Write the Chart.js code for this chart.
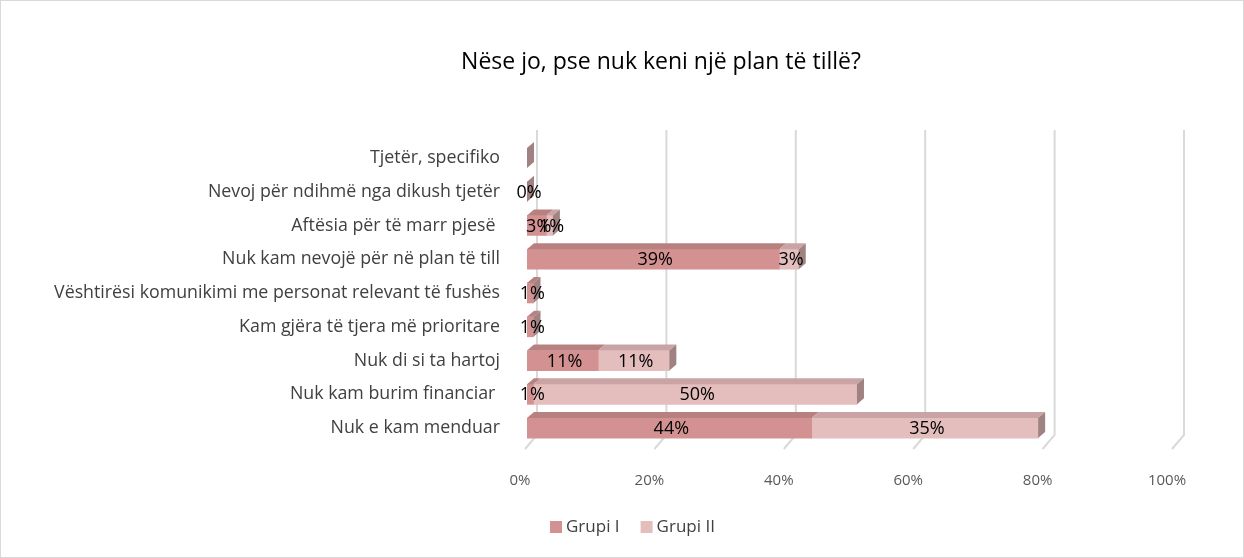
<!DOCTYPE html>
<html>
<head>
<meta charset="utf-8">
<script src="https://cdn.jsdelivr.net/npm/chart.js@4.4.1/dist/chart.umd.min.js"></script>
<style>
  body { margin: 0; background: #fff; }
</style>
</head>
<body>
<canvas id="bars" width="1244" height="558"></canvas>
<script>
const titleText = 'Nëse jo, pse nuk keni një plan të tillë?';
const categories = [
  'Tjetër, specifiko',
  'Nevoj për ndihmë nga dikush tjetër',
  'Aftësia për të marr pjesë ',
  'Nuk kam nevojë për në plan të till',
  'Vështirësi komunikimi me personat relevant të fushës',
  'Kam gjëra të tjera më prioritare',
  'Nuk di si ta hartoj',
  'Nuk kam burim financiar ',
  'Nuk e kam menduar'
];
const grupiI = [null, 0, 3, 39, 1, 1, 11, 1, 44];
const grupiII = [null, null, 1, 3, null, null, 11, 50, 35];
const seriesNames = ['Grupi I', 'Grupi II'];
const xTicks = [0, 20, 40, 60, 80, 100];

const front = ['#d39291', '#e4bdbd'];
const topFace = ['#b98080', '#caa4a4'];
const sideFace = '#a08282';
const depthX = 7, depthY = 6;
const font = '"Open Sans", Lato, sans-serif';

// back wall grid lines + slanted floor marks
const gridPlugin = {
  id: 'grid3d',
  beforeDatasetsDraw(chart) {
    const { ctx, chartArea, scales } = chart;
    ctx.save();
    ctx.strokeStyle = '#d9d9d9';
    ctx.lineWidth = 2;
    xTicks.forEach(v => {
      const x = scales.x.getPixelForValue(v) + 10;
      ctx.beginPath();
      ctx.moveTo(x, chartArea.top - 11);
      ctx.lineTo(x, chartArea.bottom - 10);
      ctx.lineTo(x - 12, chartArea.bottom + 4);
      ctx.stroke();
    });
    ctx.restore();
  }
};

// top/side faces of the bars and value labels
const barPlugin = {
  id: 'bars3d',
  afterDatasetsDraw(chart) {
    const { ctx, scales } = chart;
    ctx.save();
    chart.data.datasets.forEach((ds, di) => {
      chart.getDatasetMeta(di).data.forEach((bar, i) => {
        if (ds.data[i] === null || ds.data[i] === 0) return;
        const top = bar.y - bar.height / 2;
        const l = Math.min(bar.x, bar.base), r = Math.max(bar.x, bar.base);
        ctx.fillStyle = topFace[di];
        ctx.beginPath();
        ctx.moveTo(l, top);
        ctx.lineTo(r, top);
        ctx.lineTo(r + depthX, top - depthY);
        ctx.lineTo(l + depthX, top - depthY);
        ctx.closePath();
        ctx.fill();
      });
    });
    const h = chart.getDatasetMeta(0).data[0].height;
    categories.forEach((c, i) => {
      const sum = (grupiI[i] || 0) + (grupiII[i] || 0);
      const x = scales.x.getPixelForValue(sum);
      const y = scales.y.getPixelForValue(i);
      ctx.fillStyle = sideFace;
      ctx.beginPath();
      ctx.moveTo(x, y - h / 2);
      ctx.lineTo(x + depthX, y - h / 2 - depthY);
      ctx.lineTo(x + depthX, y + h / 2 - depthY);
      ctx.lineTo(x, y + h / 2);
      ctx.closePath();
      ctx.fill();
    });
    ctx.fillStyle = '#000';
    ctx.font = '18px ' + font;
    ctx.textAlign = 'center';
    ctx.textBaseline = 'middle';
    chart.data.datasets.forEach((ds, di) => {
      chart.getDatasetMeta(di).data.forEach((bar, i) => {
        if (ds.data[i] === null) return;
        ctx.fillText(ds.data[i] + '%', (bar.x + bar.base) / 2 + 2, bar.y + 1);
      });
    });
    ctx.restore();
  }
};

const framePlugin = {
  id: 'frame',
  beforeDraw(chart) {
    const { ctx, width, height } = chart;
    ctx.save();
    ctx.fillStyle = '#fff';
    ctx.fillRect(0, 0, width, height);
    ctx.strokeStyle = '#d9d9d9';
    ctx.lineWidth = 1;
    ctx.strokeRect(0.5, 0.5, width - 1, height - 1);
    ctx.restore();
  },
  afterDraw(chart) {
    const { ctx } = chart;
    ctx.save();
    ctx.fillStyle = '#000';
    ctx.font = '23px ' + font;
    ctx.textAlign = 'center';
    ctx.textBaseline = 'middle';
    ctx.fillText(titleText, 661, 62);
    // legend
    ctx.font = '17px ' + font;
    ctx.textAlign = 'left';
    let x = 550;
    seriesNames.forEach((name, i) => {
      ctx.fillStyle = front[i];
      ctx.fillRect(x, 521, 12, 12);
      ctx.fillStyle = '#404040';
      ctx.fillText(name, x + 16, 527);
      x += 16 + ctx.measureText(name).width + 21;
    });
    ctx.restore();
  }
};

new Chart(document.getElementById('bars').getContext('2d'), {
  type: 'bar',
  data: {
    labels: categories,
    datasets: [
      { label: seriesNames[0], data: grupiI, backgroundColor: front[0], barThickness: 20 },
      { label: seriesNames[1], data: grupiII, backgroundColor: front[1], barThickness: 20 }
    ]
  },
  options: {
    indexAxis: 'y',
    responsive: false,
    animation: false,
    layout: { padding: { top: 141, left: 0, right: 70, bottom: 0 } },
    plugins: {
      legend: { display: false },
      title: { display: false },
      tooltip: { enabled: false }
    },
    scales: {
      x: {
        stacked: true,
        min: 0,
        max: 100,
        afterFit: s => { s.height = 113; },
        afterBuildTicks: s => { s.ticks = xTicks.map(v => ({ value: v })); },
        grid: { display: false },
        border: { display: false },
        ticks: {
          padding: 19,
          labelOffset: -7,
          color: '#595959',
          font: { family: font, size: 15 },
          callback: v => v + '%'
        }
      },
      y: {
        stacked: true,
        afterFit: s => { s.width = 527; },
        grid: { display: false },
        border: { display: false },
        ticks: {
          padding: 19,
          color: '#404040',
          font: { family: font, size: 17.8 }
        }
      }
    }
  },
  plugins: [framePlugin, gridPlugin, barPlugin]
});
</script>
</body>
</html>
